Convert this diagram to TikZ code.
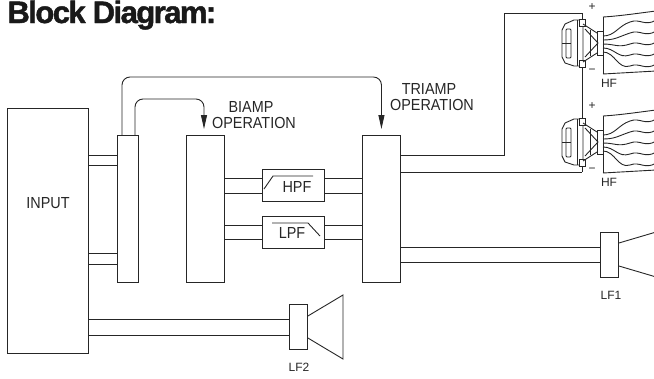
\documentclass[tikz,border=0pt]{standalone}
\usepackage{fontspec}
\setmainfont{Liberation Sans}
\newfontfamily\lblfont[FakeStretch=0.9]{Liberation Sans}
\newfontfamily\titlefont[LetterSpace=-5,FakeBold=1.5]{Liberation Sans}
\usepackage{tikz}
\usetikzlibrary{arrows.meta}

\begin{document}
\begin{tikzpicture}[x=1pt, y=-1pt, line width=0.9pt, black!85,
	box/.style={draw, inner sep=0pt, anchor=north west},
	lbl/.style={inner sep=0pt, font=\lblfont\fontsize{16}{15}\selectfont},
	small/.style={inner sep=0pt, font=\fontsize{12}{12}\selectfont},
	sig/.style={-{Triangle[length=14pt,width=6pt]}, rounded corners=8pt},
	]
		\useasboundingbox (0,0) rectangle (654,378);
		\clip (0,0) rectangle (654,378);
		\node[anchor=base west, font=\titlefont\bfseries\fontsize{31}{31}\selectfont, inner sep=0pt, black!90] (title) at (7,23) {Block Diagram:};
		%
		\node[box, minimum width=81pt, minimum height=245pt] (inp) at (7,108) {};
		\node[box, minimum width=21pt, minimum height=147pt] (split) at (117,135) {};
		\node[box, minimum width=38pt, minimum height=147pt] (biamp) at (186,135) {};
		\node[box, minimum width=38pt, minimum height=147pt] (tri) at (362,135) {};
		\node[box, minimum width=62pt, minimum height=32pt] (hpf) at (262,169) {};
		\node[box, minimum width=62pt, minimum height=32pt] (lpf) at (262,216) {};
		\node[box, minimum width=18pt, minimum height=45pt] (lf1) at (600,232) {};
		\node[box, minimum width=18pt, minimum height=45pt] (lf2) at (289,304) {};
		%
		\node[lbl] (inplbl) at (48,203) {INPUT};
		\node[lbl] (hpflbl) at (297,187) {HPF};
		\node[lbl] (lpflbl) at (292,233) {LPF};
		\node[lbl, anchor=base] (bilbl) at (251,112) {BIAMP};
		\node[lbl, anchor=base] (biop) at (254,128) {OPERATION};
		\node[lbl, anchor=base] (trilbl) at (429,94) {TRIAMP};
		\node[lbl, anchor=base] (triop) at (432,110) {OPERATION};
		\node[small] (lf1lbl) at (611,295) {LF1};
		\node[small] (lf2lbl) at (299,367) {LF2};
		%
		\draw (264,189) -- (273,176) -- (313,176);
		\draw (272,223) -- (308,223) -- (320,236);
		%
		\draw (inp.east |- 0,155) -- (split.west |- 0,155);
		\draw (inp.east |- 0,165) -- (split.west |- 0,165);
		\draw (inp.east |- 0,253) -- (split.west |- 0,253);
		\draw (inp.east |- 0,264) -- (split.west |- 0,264);
		\foreach \yy in {178,193} {
			\draw (biamp.east |- 0,\yy) -- (hpf.west |- 0,\yy);
			\draw (hpf.east |- 0,\yy) -- (tri.west |- 0,\yy);
		}
		\foreach \yy in {225,239} {
			\draw (biamp.east |- 0,\yy) -- (lpf.west |- 0,\yy);
			\draw (lpf.east |- 0,\yy) -- (tri.west |- 0,\yy);
		}
		\draw (tri.east |- 0,247) -- (lf1.west |- 0,247);
		\draw (tri.east |- 0,262) -- (lf1.west |- 0,262);
		\draw (inp.east |- 0,319) -- (lf2.west |- 0,319);
		\draw (inp.east |- 0,335) -- (lf2.west |- 0,335);
		%
		\coordinate (trilvl) at (0,77);
		\coordinate (bilvl) at (0,99);
		\draw[sig] (split.north west -| 122,0) -- (122,0 |- trilvl) -| ([yshift=6pt]tri.north);
		\draw[sig] (split.north west -| 135,0) -- (135,0 |- bilvl) -| ([yshift=6pt]biamp.north -| 204,0);
		%
		\coordinate (bend) at (504,13);
		\coordinate (hfa) at (582,13);
		\coordinate (hfb) at (582,172);
		\draw (tri.east |- 0,155) -| (bend) -- (hfa);
		\draw (tri.east |- hfb) -- (hfb);
		\draw (hfa) -- (hfb);
		%
		\draw (lf1.east |- 0,243) -- (690,222.0);
		\draw (lf1.east |- 0,266) -- (690,287.0);
		\draw (lf2.east |- 0,316) -- (343,295) -- (343,359) -- (lf2.east |- 0,338);
		%
		\foreach \dy in {0,99} {
			\begin{scope}[shift={(0,\dy)}, line width=0.9pt]
				\draw[fill=white] (574,20) -- (565,24) -- (562,30) -- (562,57) -- (565,63) -- (574,66) -- (583,66) -- (583,20) -- cycle;
				\draw (577,20) -- (577,66);
				\draw[rounded corners=1pt] (566,29) rectangle (571,58);
				\draw (562,43) -- (571,43);
				\draw[fill=white] (579,19) rectangle (585,26);
				\draw[fill=white] (579,60) rectangle (585,67);
				\draw (583,24) -- (597,33) (583,62) -- (597,53);
				\draw (585,29) -- (598,43) -- (585,57);
				\draw (590,30) -- (590,56);
				\draw (597,31) rectangle (603,55);
				\draw (603,17) -- (603,74);
				\draw (603,17) .. controls (620,16) and (640,13) .. (656,11);
				\draw (603,74) -- (656,71);
				\foreach \a/\b in {36/20,40/31,44/42,48/53,52/64} {
					\draw (603,\a) .. controls (615,\a) and (618,\b+6) .. (630,\b+2) .. controls (640,\b-2) and (645,\b+7) .. (656,\b);
				}
				\node[small] (plus) at (592,7) {+};
				\node[small] (minus) at (592,71) {−};
				\node[small] (hflbl) at (609,83) {HF};
			\end{scope}
		}
	\end{tikzpicture}
\end{document}
